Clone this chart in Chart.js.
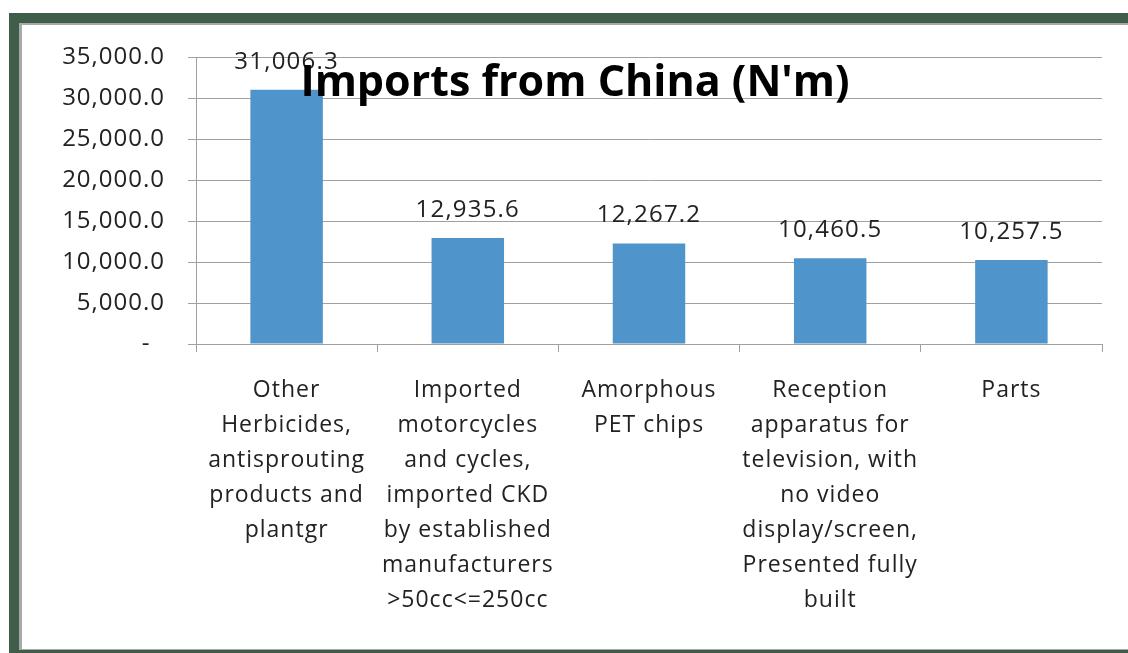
<!DOCTYPE html>
<html>
<head>
<meta charset="utf-8">
<title>Imports from China (N'm)</title>
<script src="https://cdn.jsdelivr.net/npm/chart.js@4"></script>
<style>
    html, body { margin: 0; padding: 0; background: #ffffff; }
    body { width: 1128px; height: 653px; position: relative; overflow: hidden; }
    .frame {
        position: absolute; left: 9px; top: 13px; right: 0; bottom: 0;
        border-left: 10px solid #3e5e4a;
        border-top: 10px solid #3e5e4a;
        border-bottom: 3px solid #3e5e4a;
    }
    .frame-inner {
        position: absolute; left: 0; top: 0; right: 0; bottom: 0;
        border-left: 3px solid #a8a8a8;
        border-top: 2px solid #a8a8a8;
        border-bottom: 1px solid #a8a8a8;
    }
    #chart { position: absolute; left: 0; top: 0; }
</style>
</head>
<body>
<div class="frame"><div class="frame-inner"></div></div>
<canvas id="chart" width="1128" height="653"></canvas>
<script>
// Chart data
const chartTitle = "Imports from China (N'm)";
const categories = [
    ['Other', 'Herbicides,', 'antisprouting', 'products and', 'plantgr'],
    ['Imported', 'motorcycles', 'and cycles,', 'imported CKD', 'by established', 'manufacturers', '>50cc<=250cc'],
    ['Amorphous', 'PET chips'],
    ['Reception', 'apparatus for', 'television, with', 'no video', 'display/screen,', 'Presented fully', 'built'],
    ['Parts']
];
const importValues = [31006.3, 12935.6, 12267.2, 10460.5, 10257.5];
const yMin = 0;
const yMax = 35000;
const yStep = 5000;

const FONT = "'Open Sans', 'Liberation Sans', sans-serif";
const TEXT_COLOR = '#222222';
const LINE_COLOR = '#a0a0a0';

// Excel style number format, zero shown as a dash
function formatNumber(v) {
    if (v === 0) return '-  ';
    return v.toLocaleString('en-US', { minimumFractionDigits: 1, maximumFractionDigits: 1 });
}

// original text is a bit wider than Open Sans, open it up a little
const spacingPlugin = {
    id: 'spacing',
    beforeDraw(chart) {
        chart.ctx.letterSpacing = '1px';
    }
};

// Value labels above each bar
const barLabelsPlugin = {
    id: 'barLabels',
    afterDatasetsDraw(chart) {
        const ctx = chart.ctx;
        const meta = chart.getDatasetMeta(0);
        ctx.save();
        ctx.letterSpacing = '1.2px';
        ctx.font = '24px ' + FONT;
        ctx.fillStyle = TEXT_COLOR;
        ctx.textAlign = 'center';
        ctx.textBaseline = 'alphabetic';
        meta.data.forEach((bar, i) => {
            ctx.fillText(formatNumber(importValues[i]), bar.x, bar.y - 21);
        });
        ctx.restore();
    }
};

// Title drawn over the plot, like the original
const overlayTitlePlugin = {
    id: 'overlayTitle',
    afterDraw(chart) {
        const ctx = chart.ctx;
        ctx.save();
        ctx.letterSpacing = '0px';
        ctx.font = 'bold 43px ' + FONT;
        ctx.fillStyle = '#000000';
        ctx.textAlign = 'center';
        ctx.textBaseline = 'alphabetic';
        ctx.fillText(chartTitle, 575, 96);
        ctx.restore();
    }
};

new Chart(document.getElementById('chart'), {
    type: 'bar',
    data: {
        labels: categories,
        datasets: [{
            data: importValues,
            backgroundColor: '#4f95cc',
            borderWidth: 0,
            categoryPercentage: 1.0,
            barPercentage: 0.4
        }]
    },
    options: {
        responsive: false,
        animation: false,
        devicePixelRatio: 1,
        layout: {
            padding: { top: 57, right: 26, bottom: 0, left: 0 }
        },
        plugins: {
            legend: { display: false },
            title: { display: false },
            tooltip: { enabled: false }
        },
        scales: {
            x: {
                grid: {
                    offset: true,
                    drawOnChartArea: false,
                    drawTicks: true,
                    tickLength: 8,
                    color: LINE_COLOR,
                    lineWidth: 1
                },
                border: { display: true, color: LINE_COLOR, width: 1 },
                ticks: {
                    color: TEXT_COLOR,
                    font: { family: FONT, size: 23, lineHeight: 35 / 23 },
                    padding: 21,
                    maxRotation: 0,
                    autoSkip: false
                },
                afterFit(scale) { scale.height = 309; }
            },
            y: {
                min: yMin,
                max: yMax,
                grid: {
                    drawOnChartArea: true,
                    drawTicks: true,
                    tickLength: 8,
                    color: LINE_COLOR,
                    lineWidth: 1
                },
                border: { display: true, color: LINE_COLOR, width: 1 },
                ticks: {
                    stepSize: yStep,
                    color: TEXT_COLOR,
                    font: { family: FONT, size: 24 },
                    padding: 23,
                    callback: value => formatNumber(value)
                },
                afterFit(scale) { scale.width = 196; }
            }
        }
    },
    plugins: [spacingPlugin, barLabelsPlugin, overlayTitlePlugin]
});
</script>
</body>
</html>
